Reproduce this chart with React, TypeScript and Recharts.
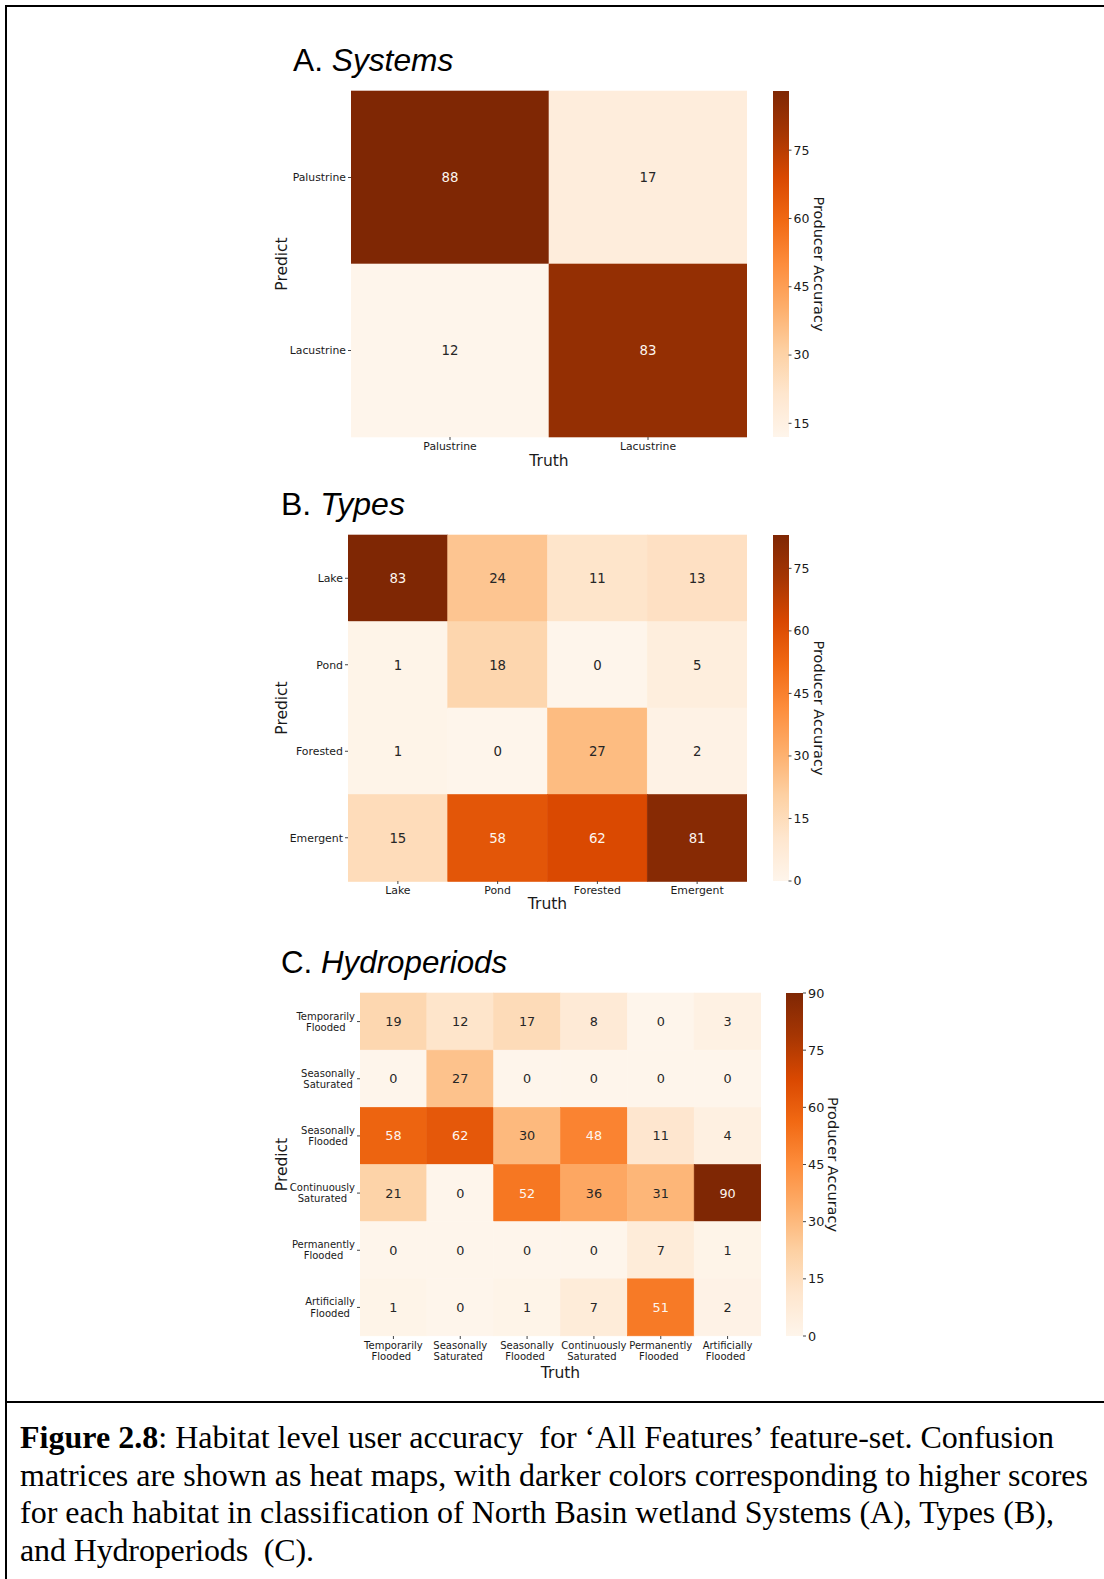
import React from "react";
import { BarChart, Bar, XAxis, YAxis } from "recharts";

// A. Systems
const systemLabels = ["Palustrine", "Lacustrine"];
const systemValues = [
  [88, 17],
  [12, 83],
];
const systemRange = [12, 88];
const systemTicks = [15, 30, 45, 60, 75];

// B. Types
const typeLabels = ["Lake", "Pond", "Forested", "Emergent"];
const typeValues = [
  [83, 24, 11, 13],
  [1, 18, 0, 5],
  [1, 0, 27, 2],
  [15, 58, 62, 81],
];
const typeRange = [0, 83];
const typeTicks = [0, 15, 30, 45, 60, 75];

// C. Hydroperiods
const hydroLabels = [
  "Temporarily\nFlooded",
  "Seasonally\nSaturated",
  "Seasonally\nFlooded",
  "Continuously\nSaturated",
  "Permanently\nFlooded",
  "Artificially\nFlooded",
];
const hydroValues = [
  [19, 12, 17, 8, 0, 3],
  [0, 27, 0, 0, 0, 0],
  [58, 62, 30, 48, 11, 4],
  [21, 0, 52, 36, 31, 90],
  [0, 0, 0, 0, 7, 1],
  [1, 0, 1, 7, 51, 2],
];
const hydroRange = [0, 90];
const hydroTicks = [0, 15, 30, 45, 60, 75, 90];

const captionLines = [
  "Habitat level user accuracy  for \u2018All Features\u2019 feature-set. Confusion",
  "matrices are shown as heat maps, with darker colors corresponding to higher scores",
  "for each habitat in classification of North Basin wetland Systems (A), Types (B),",
  "and Hydroperiods  (C).",
];
// measured line widths of the caption in the figure
const captionWidths = [1034, 1068, 1034, 294];

// matplotlib "Oranges"
const ORANGES = [
  "#fef5eb", "#fee6ce", "#fdd0a2", "#fdae6b", "#fd8d3c",
  "#f16913", "#d94801", "#a63603", "#7f2704",
];

const TITLE_FONT = "'Liberation Sans', Arial, sans-serif";
const TICK_FONT = "'DejaVu Sans', 'Noto Sans', sans-serif";
const CAPTION_FONT = "'Liberation Serif', 'Times New Roman', serif";
const INK = "#1a1a1a";

let measureCtx: any = null;
function textWidth(s: string, size: number) {
  if (!measureCtx) measureCtx = document.createElement("canvas").getContext("2d");
  if (!measureCtx) return s.length * size * 0.55;
  measureCtx.font = `${size}px 'DejaVu Sans'`;
  return measureCtx.measureText(s).width;
}

function hexRgb(h: string) {
  const n = parseInt(h.slice(1), 16);
  return [(n >> 16) & 255, (n >> 8) & 255, n & 255];
}

function orangeRgb(t: number) {
  const c = Math.max(0, Math.min(1, t)) * (ORANGES.length - 1);
  const i = Math.min(ORANGES.length - 2, Math.floor(c));
  const f = c - i;
  const a = hexRgb(ORANGES[i]);
  const b = hexRgb(ORANGES[i + 1]);
  return a.map((v, k) => Math.round(v + (b[k] - v) * f));
}

function luminance(rgb: number[]) {
  const c = rgb.map((v) => {
    const s = v / 255;
    return s <= 0.03928 ? s / 12.92 : Math.pow((s + 0.055) / 1.055, 2.4);
  });
  return 0.2126 * c[0] + 0.7152 * c[1] + 0.0722 * c[2];
}

function Heatmap({ labels, values, range, x, y, w, h, tickFont, valueFont, yAxisW = 110, xAxisH = 34 }: any) {
  const n = labels.length;
  const data = labels.map((name: string, i: number) => {
    const row: any = { name };
    labels.forEach((_: string, j: number) => {
      row[`c${j}`] = 1;
      row[`v${j}`] = values[i][j];
    });
    return row;
  });
  const centers = labels.map((_: string, j: number) => j + 0.5);
  const pad = 4;
  const lh = tickFont * 1.12;

  const yTick = (p: any) => {
    const lines = String(p.payload.value).split("\n");
    const maxW = Math.max(...lines.map((l) => textWidth(l, tickFont)));
    const cx = p.x - maxW / 2;
    return (
      <text x={cx} y={p.y} textAnchor="middle" fontSize={tickFont} fontFamily={TICK_FONT} fill={INK}>
        {lines.map((l, k) => (
          <tspan key={k} x={cx} dy={k === 0 ? (-(lines.length - 1) / 2) * lh + tickFont * 0.36 : lh}>
            {l}
          </tspan>
        ))}
      </text>
    );
  };
  const xTick = (p: any) => {
    const lines = String(labels[Math.floor(p.payload.value)]).split("\n");
    return (
      <text x={p.x} y={p.y} textAnchor="middle" fontSize={tickFont} fontFamily={TICK_FONT} fill={INK}>
        {lines.map((l, k) => (
          <tspan key={k} x={k === 0 ? p.x : p.x - 2} dy={k === 0 ? tickFont * 0.76 : lh}>
            {l}
          </tspan>
        ))}
      </text>
    );
  };

  return (
    <div style={{ position: "absolute", left: x - yAxisW, top: y - pad }}>
      <BarChart
        width={w + yAxisW + pad}
        height={h + pad + xAxisH}
        data={data}
        layout="vertical"
        barCategoryGap={0}
        margin={{ top: pad, right: pad, bottom: 0, left: 0 }}
      >
        <XAxis
          type="number"
          domain={[0, n]}
          ticks={centers}
          allowDataOverflow
          height={xAxisH}
          axisLine={false}
          tickSize={3}
          tickMargin={2}
          tickLine={{ stroke: "#444" }}
          tick={xTick}
        />
        <YAxis
          type="category"
          dataKey="name"
          width={yAxisW}
          interval={0}
          axisLine={false}
          tickSize={3}
          tickMargin={2}
          tickLine={{ stroke: "#444" }}
          tick={yTick}
        />
        {labels.map((_: string, j: number) => (
          <Bar
            key={j}
            dataKey={`c${j}`}
            stackId="m"
            isAnimationActive={false}
            shape={(p: any) => {
              const v = p.payload[`v${j}`];
              const rgb = orangeRgb((v - range[0]) / (range[1] - range[0]));
              const fill = `rgb(${rgb.join(",")})`;
              const txt = luminance(rgb) > 0.408 ? "#262626" : "#fdf6f0";
              return (
                <g>
                  <rect x={p.x} y={p.y} width={p.width} height={p.height} fill={fill} stroke={fill} strokeWidth={0.6} />
                  <text
                    x={p.x + p.width / 2}
                    y={p.y + p.height / 2}
                    dy="0.36em"
                    textAnchor="middle"
                    fontSize={valueFont}
                    fontFamily={TICK_FONT}
                    fill={txt}
                  >
                    {v}
                  </text>
                </g>
              );
            }}
          />
        ))}
      </BarChart>
    </div>
  );
}

function ColorBar({ range, ticks, x, y, w, h, font }: any) {
  const pad = 10;
  const axisW = 40;
  const data = [{ name: "scale", span: range }];
  return (
    <div style={{ position: "absolute", left: x, top: y - pad }}>
      <BarChart
        width={w + axisW}
        height={h + pad * 2}
        data={data}
        barCategoryGap={0}
        margin={{ top: pad, right: 0, bottom: pad, left: 0 }}
      >
        <XAxis dataKey="name" hide />
        <YAxis
          orientation="right"
          type="number"
          domain={range}
          ticks={ticks}
          width={axisW}
          axisLine={false}
          tickSize={3}
          tickMargin={2}
          tickLine={{ stroke: "#444" }}
          tick={{ fontSize: font, fontFamily: TICK_FONT, fill: INK }}
        />
        <Bar dataKey="span" fill="url(#orangesGrad)" isAnimationActive={false} />
      </BarChart>
    </div>
  );
}

function Panel({ letter, name, titleX, titleY, titleSize, labels, values, range, ticks, heat, bar, tickFont, valueFont, cbFont, truthY, labelX }: any) {
  const cy = heat.y + heat.h / 2;
  return (
    <>
      <svg style={{ position: "absolute", left: 0, top: 0, overflow: "visible" }} width={1} height={1}>
        <text x={titleX} y={titleY} fontFamily={TITLE_FONT} fontSize={titleSize} fill="#000">
          {letter}. <tspan fontStyle="italic">{name}</tspan>
        </text>
        <text
          x={heat.x + heat.w / 2}
          y={truthY}
          textAnchor="middle"
          fontFamily={TICK_FONT}
          fontSize={15.5}
          fill={INK}
        >
          Truth
        </text>
        <text
          transform={`translate(281, ${cy}) rotate(-90)`}
          textAnchor="middle"
          dy="0.36em"
          fontFamily={TICK_FONT}
          fontSize={15.5}
          fill={INK}
        >
          Predict
        </text>
        <text
          transform={`translate(${labelX}, ${cy}) rotate(90)`}
          textAnchor="middle"
          dy="0.36em"
          fontFamily={TICK_FONT}
          fontSize={14.5}
          fill={INK}
        >
          Producer Accuracy
        </text>
      </svg>
      <Heatmap
        labels={labels}
        values={values}
        range={range}
        x={heat.x}
        y={heat.y}
        w={heat.w}
        h={heat.h}
        tickFont={tickFont}
        valueFont={valueFont}
      />
      <ColorBar range={range} ticks={ticks} x={bar.x} y={heat.y} w={bar.w} h={heat.h} font={cbFont} />
    </>
  );
}

export default function App() {
  return (
    <div style={{ position: "absolute", left: 0, top: 0, width: 1104, height: 1579, background: "#fff", overflow: "hidden" }}>
      <svg width={0} height={0} style={{ position: "absolute" }}>
        <defs>
          <linearGradient id="orangesGrad" x1="0" y1="1" x2="0" y2="0">
            {ORANGES.map((c, i) => (
              <stop key={i} offset={i / (ORANGES.length - 1)} stopColor={c} />
            ))}
          </linearGradient>
        </defs>
      </svg>

      <div style={{ position: "absolute", left: 5, top: 5, width: 1110, height: 2, background: "#000" }} />
      <div style={{ position: "absolute", left: 5, top: 5, width: 2, height: 1590, background: "#000" }} />
      <div style={{ position: "absolute", left: 5, top: 1401, width: 1110, height: 2, background: "#000" }} />

      <Panel
        letter="A"
        name="Systems"
        titleX={293}
        titleY={71}
        titleSize={31.7}
        labels={systemLabels}
        values={systemValues}
        range={systemRange}
        ticks={systemTicks}
        heat={{ x: 351, y: 91, w: 396, h: 346 }}
        bar={{ x: 772.5, w: 15.5 }}
        tickFont={10.8}
        valueFont={13.3}
        cbFont={12.5}
        truthY={466}
        labelX={819}
      />
      <Panel
        letter="B"
        name="Types"
        titleX={281}
        titleY={515}
        titleSize={32}
        labels={typeLabels}
        values={typeValues}
        range={typeRange}
        ticks={typeTicks}
        heat={{ x: 348, y: 535, w: 399, h: 346 }}
        bar={{ x: 772.5, w: 15.5 }}
        tickFont={10.9}
        valueFont={13.3}
        cbFont={12.5}
        truthY={909}
        labelX={819}
      />
      <Panel
        letter="C"
        name="Hydroperiods"
        titleX={281}
        titleY={973}
        titleSize={31.3}
        labels={hydroLabels}
        values={hydroValues}
        range={hydroRange}
        ticks={hydroTicks}
        heat={{ x: 360, y: 993, w: 401, h: 343 }}
        bar={{ x: 785.5, w: 17 }}
        tickFont={10}
        valueFont={12.8}
        cbFont={12.8}
        truthY={1378}
        labelX={833}
      />

      <svg style={{ position: "absolute", left: 0, top: 0 }} width={1104} height={1579} pointerEvents="none">
        {captionLines.map((line, i) => (
          <text
            key={i}
            x={20}
            y={1448 + i * 37.7}
            fontFamily={CAPTION_FONT}
            fontSize={32}
            fill="#000"
            textLength={captionWidths[i]}
            lengthAdjust="spacing"
            style={{ whiteSpace: "pre" }}
          >
            {i === 0 ? <tspan fontWeight="bold">Figure 2.8</tspan> : null}
            {i === 0 ? ": " + line : line}
          </text>
        ))}
      </svg>
    </div>
  );
}
